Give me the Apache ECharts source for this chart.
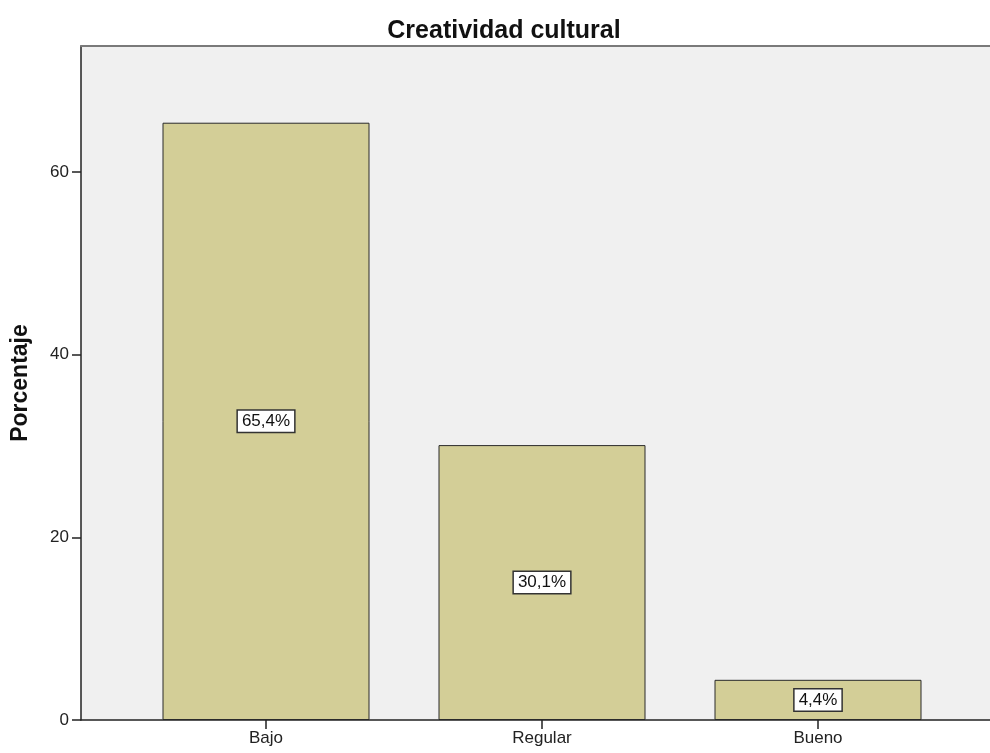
<!DOCTYPE html>
<html>
<head>
<meta charset="utf-8">
<script src="https://cdn.jsdelivr.net/npm/echarts@6/dist/echarts.min.js"></script>
<style>
  html, body { margin: 0; padding: 0; background: #fff; }
  #chart { width: 990px; height: 753px; }
</style>
</head>
<body>
<div id="chart"></div>
<script>
// Creatividad cultural – distribución porcentual
const categories = ['Bajo', 'Regular', 'Bueno'];
const percentages = [65.4, 30.1, 4.4];
const yTicks = [0, 20, 40, 60];
const yMax = 73.8;

const FONT = '"Liberation Sans", Arial, sans-serif';

const chart = echarts.init(document.getElementById('chart'), null, { renderer: 'canvas' });

chart.setOption({
  animation: false,
  backgroundColor: '#ffffff',
  title: {
    text: 'Creatividad cultural',
    left: 499,
    textAlign: 'center',
    top: 14,
    textStyle: { fontFamily: FONT, fontSize: 25, fontWeight: 'bold', color: '#111' }
  },
  grid: [
    // full plot frame with the value axis
    { left: 81, right: 0, top: 46, bottom: 33, show: true, backgroundColor: '#f0f0f0', borderWidth: 0 },
    // inner band area holding the categories
    { left: 128, right: 34, top: 46, bottom: 33 }
  ],
  xAxis: [
    {
      gridIndex: 0, type: 'value', min: 0, max: 1, position: 'bottom',
      axisLine: { show: true, onZero: false, lineStyle: { color: '#222', width: 1.5 } },
      axisTick: { show: false }, axisLabel: { show: false }, splitLine: { show: false }
    },
    {
      gridIndex: 0, type: 'value', min: 0, max: 1, position: 'top',
      axisLine: { show: true, onZero: false, lineStyle: { color: '#7a7a7a', width: 2 } },
      axisTick: { show: false }, axisLabel: { show: false }, splitLine: { show: false }
    },
    {
      gridIndex: 1, type: 'category', data: categories, position: 'bottom',
      axisLine: { show: false },
      axisTick: { show: true, alignWithLabel: true, length: 9, lineStyle: { color: '#222', width: 1.5 } },
      axisLabel: { fontFamily: FONT, fontSize: 17, color: '#222', margin: 10 },
      splitLine: { show: false }
    }
  ],
  yAxis: [
    {
      gridIndex: 0, type: 'value', min: 0, max: yMax, interval: 20,
      name: 'Porcentaje', nameLocation: 'middle', nameGap: 49, nameRotate: 90,
      nameTextStyle: { fontFamily: FONT, fontSize: 23, fontWeight: 'bold', color: '#111' },
      axisLine: { show: true, lineStyle: { color: '#222', width: 1.5 } },
      axisTick: { show: true, length: 9, customValues: yTicks, lineStyle: { color: '#222', width: 1.5 } },
      axisLabel: { fontFamily: FONT, fontSize: 17, color: '#222', margin: 12, customValues: yTicks },
      splitLine: { show: false }
    },
    {
      gridIndex: 1, type: 'value', min: 0, max: yMax, interval: 20, show: false,
      splitLine: { show: false }
    }
  ],
  series: [
    {
      type: 'bar',
      xAxisIndex: 2,
      yAxisIndex: 1,
      data: percentages,
      barWidth: 207,
      itemStyle: { color: '#d3ce97', borderColor: '#2a2a2a', borderWidth: 1 },
      label: {
        show: true,
        position: 'inside',
        formatter: p => p.value.toFixed(1).replace('.', ',') + '%',
        fontFamily: FONT,
        fontSize: 17,
        lineHeight: 19,
        color: '#111',
        backgroundColor: '#ffffff',
        borderColor: '#333',
        borderWidth: 1.5,
        padding: [1, 4, 1, 4]
      }
    }
  ]
});
</script>
</body>
</html>
